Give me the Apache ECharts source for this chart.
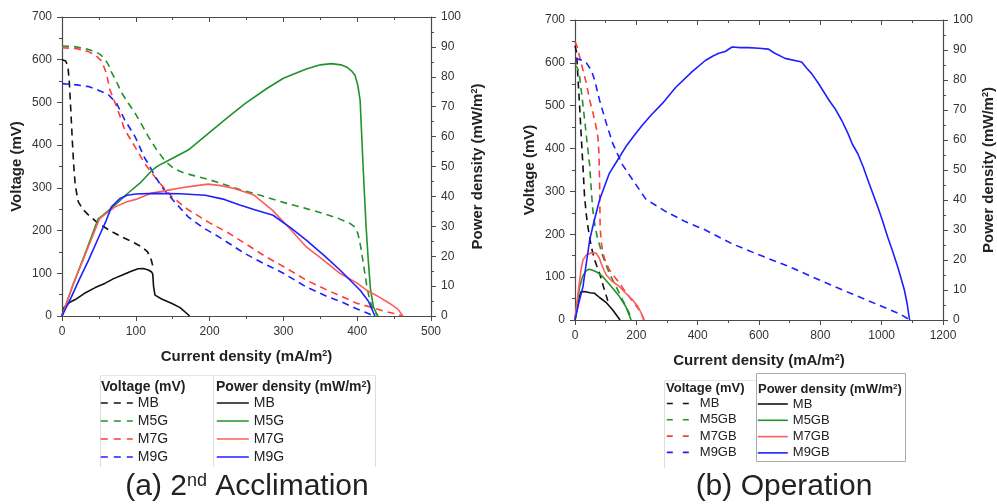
<!DOCTYPE html>
<html><head><meta charset="utf-8">
<script src="https://cdn.jsdelivr.net/npm/echarts@6/dist/echarts.min.js"></script>
<style>html,body{margin:0;padding:0;background:#fff}#c{width:997px;height:504px}</style>
</head><body><div id="c"></div><script>
// ---------- (a) 2nd Acclimation : [current density mA/m2, value] ----------
const aV_MB = [[0,600],[5,597],[8,585],[10,545],[12,480],[14,410],[16,350],[18,305],[22,268],[28,250],[35,238],[49,217],[65,200],[81,185],[95,174],[108,162],[116,150],[121,131],[124,110]];
const aV_M5G = [[0,632],[15,631],[30,627],[45,619],[52,612],[58,602],[63,588],[67,571],[74,548],[81,522],[90,498],[99,475],[108,448],[117,420],[128,390],[140,362],[152,345],[165,335],[180,328],[194,322],[215,311],[241,296],[270,282],[300,266],[330,252],[354,240],[375,228],[390,217],[397,208],[401,193],[405,160],[409,115],[413,70],[417,37],[421,18],[424,10],[428,0]];
const aV_M7G = [[0,628],[20,626],[36,619],[46,610],[54,596],[60,569],[65,529],[74,490],[85,436],[99,396],[112,357],[130,316],[149,279],[170,250],[200,218],[225,195],[248,170],[275,140],[300,116],[331,84],[360,60],[380,45],[399,30],[420,20],[435,12],[450,6],[462,0]];
const aV_M9G = [[0,544],[20,541],[36,537],[50,528],[63,518],[74,498],[85,459],[99,420],[112,370],[117,357],[125,330],[135,303],[150,272],[171,232],[190,208],[210,188],[230,166],[248,146],[270,126],[300,100],[331,68],[360,45],[380,32],[399,17],[412,8],[422,0]];
const aP_MB = [[0,0],[3,3],[10,4.5],[18,5.5],[30,7.5],[45,9.5],[58,10.9],[70,12.5],[81,13.6],[93,14.9],[103,15.8],[110,15.9],[117,15.4],[121.5,14.7],[123,14],[124,10],[126,7],[135,5.7],[149,4.2],[160,2.8],[173,0]];
const aP_M5G = [[0,0],[15,10.5],[33,22],[49,32.5],[56,33.8],[74,37.6],[88,40.8],[106,44.5],[121,48.5],[130,50.2],[144,52],[171,55.5],[198,61],[225,66.5],[248,71],[277,76],[300,79.5],[331,82.6],[350,84],[365,84.4],[378,84],[386,83.2],[393,81.8],[397,80.5],[401,77],[404,72],[408,50],[412,30],[415,18.7],[418,9],[422,3],[428,0]];
const aP_M7G = [[0,0],[15,10.5],[33,21.5],[51,32.6],[60,34.3],[72,36.5],[88,38.2],[100,39],[120,41],[144,42.1],[170,43.2],[198,44.1],[215,43.6],[232,42.7],[248,41.5],[260,40.5],[268,38.8],[285,35.4],[300,31.5],[315,27.5],[331,23.1],[350,19.5],[377,14.2],[400,11],[413,8.6],[430,6.3],[444,4.2],[455,2.3],[462,0]];
const aP_M9G = [[0,0],[12,6],[24,12.5],[36,18.7],[50,26.5],[60,32],[67,36.5],[78,39.2],[88,40.4],[100,40.8],[126,41],[160,40.9],[194,40.4],[220,39],[241,37.1],[260,35.6],[286,33.7],[310,29.5],[331,25.4],[355,20.3],[377,15.3],[404,8.6],[415,5],[424,0]];
// ---------- (b) Operation ----------
const bV_MB = [[0,640],[5,625],[10,560],[15,500],[21,420],[26,358],[31,290],[37,245],[42,218],[53,171],[64,140],[80,109],[96,70],[107,45]];
const bV_M5GB = [[0,595],[8,588],[15,568],[23,520],[31,470],[40,410],[48,360],[53,305],[58,257],[66,215],[75,187],[91,148],[112,109],[134,78],[155,47],[177,16],[183,0]];
const bV_M7GB = [[0,650],[8,635],[15,614],[26,583],[37,552],[48,513],[58,485],[66,460],[72,440],[75,425],[78,390],[80,330],[81,270],[82,215],[86,180],[91,156],[100,135],[112,117],[130,100],[145,86],[160,70],[177,54],[195,37],[210,23],[226,0]];
const bV_M9GB = [[0,610],[20,607],[37,600],[53,583],[64,560],[80,513],[102,459],[123,412],[155,362],[188,327],[231,282],[296,253],[361,229],[425,210],[512,178],[600,152],[700,124],[814,88],[900,62],[1000,32],[1060,14],[1092,0]];
const bP_MB = [[0,0],[5,3],[10,5.5],[15,7.8],[20,9.5],[26,9.6],[35,9.4],[48,9.1],[64,8.9],[80,7.5],[101,5.9],[123,3.3],[147,0]];
const bP_M5GB = [[0,0],[5,4],[10,7.5],[15,11],[25,14.5],[35,16.3],[45,16.9],[55,16.7],[69,16.1],[80,15.4],[91,14.4],[107,12.5],[123,10.6],[145,7.8],[166,4.4],[183,0]];
const bP_M7GB = [[0,0],[5,4.5],[10,9],[15,13],[20,17],[26,20],[37,21.7],[53,22.4],[69,22.3],[75,21.8],[80,20.5],[85,18.9],[95,16.5],[102,15],[120,13],[145,11.1],[165,9],[188,6.7],[205,4.5],[215,2.5],[224,0]];
const bP_M9GB = [[0,0],[13,6],[26,11.1],[37,19],[48,26.7],[60,32],[80,40],[96,44.5],[112,48.9],[140,53.5],[166,57.8],[193,61.5],[220,65],[250,68.5],[285,72.2],[328,77.5],[382,82.8],[425,86.5],[450,88],[469,88.9],[490,89.5],[512,91],[540,90.8],[566,90.8],[600,90.6],[631,90.3],[650,89],[685,87.2],[739,86],[755,84],[771,82.2],[793,79],[814,75.6],[830,73],[847,70.6],[870,66.5],[890,62.2],[905,58.5],[922,55.5],[940,51],[955,46.7],[970,42.5],[987,37.8],[1003,33],[1019,27.8],[1036,22.8],[1052,17.8],[1063,14],[1074,10],[1083,5.5],[1090,0.6],[1092,0]];

const aNames = ['MB','M5G','M7G','M9G'];
const bNames = ['MB','M5GB','M7GB','M9GB'];
const colors = ['#111111','#22922a','#ff3b3b','#1f1fff'];
const colorsSolid = ['#111111','#22922a','#ff5c5c','#1f1fff'];

const FONT = 'Arial, "Liberation Sans", sans-serif';
const AX = '#4a4a4a';

function axis(extra){
  return Object.assign({
    type:'value',
    axisLine:{show:true,onZero:false,lineStyle:{color:AX,width:1.2}},
    axisTick:{show:true,length:5,lineStyle:{color:AX,width:1}},
    minorTick:{show:true,splitNumber:2,length:3,lineStyle:{color:AX,width:1}},
    splitLine:{show:false},
    axisLabel:{color:'#333',fontSize:12,fontFamily:FONT,margin:10,formatter:v=>String(v)},
    nameTextStyle:{color:'#222',fontSize:15,fontWeight:'bold',fontFamily:FONT,
      rich:{sup:{fontSize:9,fontWeight:'bold',fontFamily:FONT,color:'#222',verticalAlign:'top'}}}
  }, extra);
}
function topAxis(grid,max,interval){
  return axis({gridIndex:grid,position:'top',min:0,max,interval,
    axisLabel:{show:false},axisTick:{show:true,inside:true,length:5,lineStyle:{color:AX}},
    minorTick:{show:true,splitNumber:2,length:3,lineStyle:{color:AX}}});
}
const xAxes = [
  axis({gridIndex:0,position:'bottom',min:0,max:500,interval:100,name:'Current density (mA/m{sup|2})',nameLocation:'middle',nameGap:33}),
  topAxis(0,500,100),
  axis({gridIndex:1,position:'bottom',min:0,max:1200,interval:200,name:'Current density (mA/m{sup|2})',nameLocation:'middle',nameGap:33}),
  topAxis(1,1200,200)
];
const yAxes = [
  axis({gridIndex:0,position:'left',min:0,max:700,interval:100,name:'Voltage (mV)',nameLocation:'middle',nameGap:38}),
  axis({gridIndex:0,position:'right',min:0,max:100,interval:10,name:'Power density (mW/m{sup|2})',nameLocation:'middle',nameGap:39,nameRotate:90}),
  axis({gridIndex:1,position:'left',min:0,max:700,interval:100,name:'Voltage (mV)',nameLocation:'middle',nameGap:38}),
  axis({gridIndex:1,position:'right',min:0,max:100,interval:10,name:'Power density (mW/m{sup|2})',nameLocation:'middle',nameGap:38,nameRotate:90})
];

function ser(name,data,color,dashed,xi,yi){
  return {type:'line',name,data,xAxisIndex:xi,yAxisIndex:yi,symbol:'none',showSymbol:false,
    silent:true,animation:false,z:dashed?2:3,
    lineStyle:{color,width:1.6,type:dashed?[7,5]:'solid'},itemStyle:{color}};
}
const series = [];
const aV=[aV_MB,aV_M5G,aV_M7G,aV_M9G], aP=[aP_MB,aP_M5G,aP_M7G,aP_M9G];
const bV=[bV_MB,bV_M5GB,bV_M7GB,bV_M9GB], bP=[bP_MB,bP_M5GB,bP_M7GB,bP_M9GB];
aNames.forEach((n,i)=>{series.push(ser('aV:'+n,aV[i],colors[i],true,0,0));});
aNames.forEach((n,i)=>{series.push(ser('aP:'+n,aP[i],colorsSolid[i],false,0,1));});
bNames.forEach((n,i)=>{series.push(ser('bV:'+n,bV[i],colors[i],true,2,2));});
bNames.forEach((n,i)=>{series.push(ser('bP:'+n,bP[i],colorsSolid[i],false,2,3));});

function leg(prefix,names,left,top,w,fs,gap,dash){
  return {show:true,orient:'vertical',left,top,padding:0,itemWidth:w,itemHeight:fs,itemGap:gap,
    selectedMode:false,data:names.map(n=>prefix+n),
    formatter:n=>n.split(':')[1],
    textStyle:{fontSize:fs,fontFamily:FONT,color:'#222'},
    itemStyle:{opacity:0},
    lineStyle:{width:1.6,type:dash||'solid'}};
}
const legends = [
  leg('aV:',aNames,100,396,32,14,4,[7,6]),
  leg('aP:',aNames,216,396,32,14,4,'solid'),
  leg('bV:',bNames,666,397,28,13,3.3,[6,10]),
  leg('bP:',bNames,757,397.5,30,13,3.3,'solid')
];

const supRich = (fs)=>({sup:{fontSize:Math.round(fs*0.62),fontWeight:'bold',fontFamily:FONT,fill:'#222',verticalAlign:'top'}});
function txt(x,y,text,fs,weight,align,rich){
  return {type:'text',x,y,silent:true,style:{text,fill:'#222',font:(weight||'normal')+' '+fs+'px '+FONT,
    textAlign:align||'left',textVerticalAlign:'middle',rich:rich||{}}};
}
function ln(x1,y1,x2,y2,c){return {type:'line',silent:true,shape:{x1,y1,x2,y2},style:{stroke:c,lineWidth:1}};}
const graphic = [
  // legend frames
  ln(100.5,375,100.5,467,'#ddd'), ln(213.5,375,213.5,467,'#ddd'), ln(375.5,375,375.5,467,'#ddd'), ln(100,375.5,376,375.5,'#e6e6e6'),
  ln(664.5,380,664.5,468,'#ddd'), ln(664,380.5,756,380.5,'#e6e6e6'),
  {type:'rect',silent:true,shape:{x:756.5,y:373.5,width:149,height:88},style:{fill:'none',stroke:'#aaa',lineWidth:1}},
  // legend headers
  txt(101,387,'Voltage (mV)',14,'bold'),
  txt(216,387,'Power density (mW/m{sup|2})',14,'bold','left',supRich(14)),
  txt(666,388,'Voltage (mV)',13,'bold'),
  txt(758,389,'Power density (mW/m{sup|2})',13,'bold','left',supRich(13)),
  // panel titles
  txt(247,487,'(a) 2{sup|nd} Acclimation',30,'normal','center',
      {sup:{fontSize:18,fontFamily:FONT,fill:'#222',verticalAlign:'top'}}),
  txt(784,487,'(b) Operation',30,'normal','center')
];

const chart = echarts.init(document.getElementById('c'),null,{renderer:'canvas'});
chart.setOption({
  animation:false,
  backgroundColor:'#fff',
  grid:[
    {left:62,top:17,width:369,height:299,containLabel:false},
    {left:575,top:20,width:370.5,height:300,containLabel:false}
  ],
  xAxis:xAxes, yAxis:yAxes, series, legend:legends, graphic
});
</script></body></html>
